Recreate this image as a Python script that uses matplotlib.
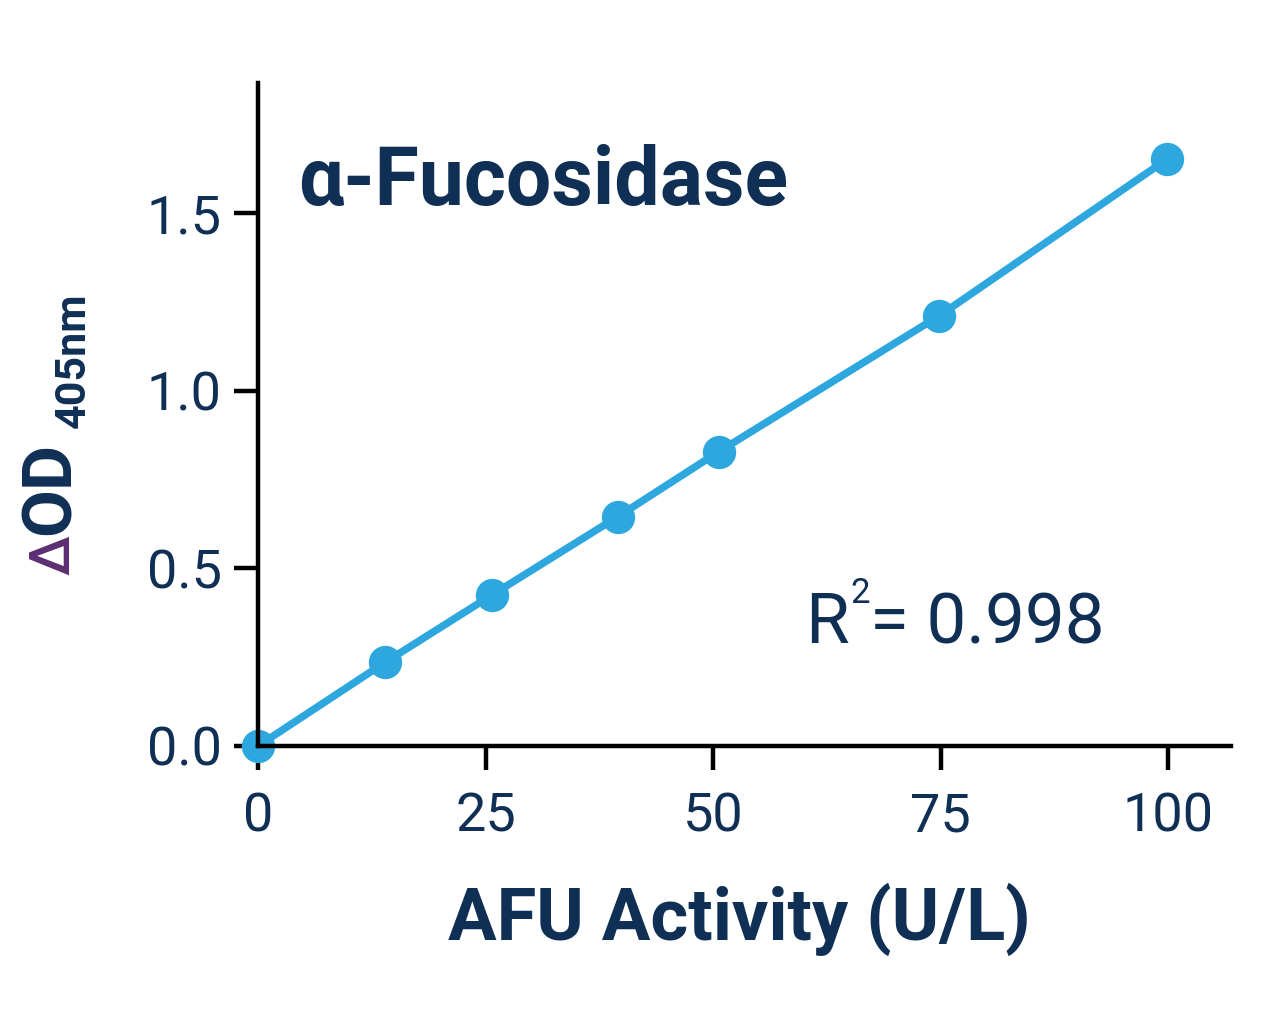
import matplotlib.pyplot as plt

# standard curve values
activity = [0, 14, 25.7, 39.5, 50.6, 74.8, 99.9]
delta_od = [0.0, 0.236, 0.425, 0.645, 0.828, 1.21, 1.652]
x_ticks = [0, 25, 50, 75, 100]
y_ticks = [0.0, 0.5, 1.0, 1.5]
y_tick_labels = ['0.0', '0.5', '1.0', '1.5']

navy = '#0f2f55'
blue = '#2ea7df'
purple = '#5c2d72'

plt.rcParams['font.family'] = ['Roboto', 'DejaVu Sans']

W, H = 1280, 1026
fig = plt.figure(figsize=(W / 100, H / 100), dpi=100, facecolor='white')
ax = fig.add_axes([258 / W, 1 - 746 / H, (1231 - 258) / W, (746 - 83) / H])

ax.plot(activity, delta_od, color=blue, linewidth=5.4, marker='o', markersize=24,
        markeredgewidth=0, clip_on=False, zorder=3)

ax.set_xlim(0, 106.9)
ax.set_ylim(0, 1.866)
ax.set_xticks(x_ticks)
ax.set_yticks(y_ticks)
ax.set_yticklabels(y_tick_labels)

for side in ['top', 'right']:
    ax.spines[side].set_visible(False)
for side in ['left', 'bottom']:
    ax.spines[side].set_linewidth(3.2)
    ax.spines[side].set_color('black')
    ax.spines[side].set_zorder(4)

ax.tick_params(axis='x', direction='out', length=17, width=3.2, pad=16,
               labelsize=39, labelcolor=navy, color='black')
ax.tick_params(axis='y', direction='out', length=17, width=3.2, pad=9,
               labelsize=39, labelcolor=navy, color='black')

# title inside the plot
fig.text(298 / W, 1 - 205 / H, 'α-Fucosidase', fontsize=58, fontweight='bold',
         color=navy, ha='left', va='baseline')

# x label
fig.text(739 / W, 1 - 940 / H, 'AFU Activity (U/L)', fontsize=52, fontweight='bold',
         color=navy, ha='center', va='baseline')

# y label: ΔOD with subscript 405nm
fig.text(54 / W, 1 - 575 / H, 'Δ', fontsize=40, fontweight='medium', color=purple,
         rotation=90, ha='center', va='bottom')
fig.text(51 / W, 1 - 535 / H, 'OD', fontsize=50, fontweight='bold', color=navy,
         rotation=90, ha='center', va='bottom')
fig.text(73 / W, 1 - 428 / H, '405nm', fontsize=31, fontweight='bold', color=navy,
         rotation=90, ha='center', va='bottom')

# R squared annotation
fig.text(805 / W, 1 - 643 / H, 'R', fontsize=51, color=navy, ha='left', va='baseline')
fig.text(850 / W, 1 - 603 / H, '2', fontsize=25, color=navy, ha='left', va='baseline')
fig.text(870 / W, 1 - 643 / H, '= 0.998', fontsize=51, color=navy, ha='left', va='baseline')

plt.savefig('out.png', dpi=100, facecolor='white')
